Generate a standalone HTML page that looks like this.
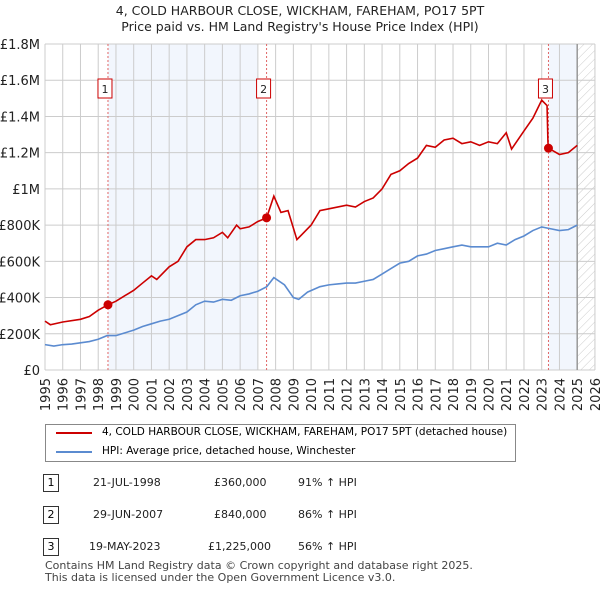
<!DOCTYPE html><html><head><meta charset="utf-8"><style>
body{margin:0;background:#fff;font-family:"DejaVu Sans","Liberation Sans",sans-serif;}
#w{position:relative;width:600px;height:590px;overflow:hidden}
.t{position:absolute;font-size:12px;color:#222}
</style></head><body><div id="w">
<div class="t" style="left:0;width:600px;text-align:center;top:3px;font-size:12.5px;line-height:16px">4, COLD HARBOUR CLOSE, WICKHAM, FAREHAM, PO17 5PT<br>Price paid vs. HM Land Registry's House Price Index (HPI)</div>
<svg id="c" width="600" height="420" style="position:absolute;left:0;top:0"></svg>
<div style="position:absolute;left:45px;top:424px;width:469px;height:36px;border:1px solid #888;font-size:10.5px">
<div style="position:absolute;left:10px;top:7px;width:36px;border-top:2px solid #cc0000"></div><div style="position:absolute;left:56px;top:1px">4, COLD HARBOUR CLOSE, WICKHAM, FAREHAM, PO17 5PT (detached house)</div>
<div style="position:absolute;left:10px;top:26px;width:36px;border-top:2px solid #5b8bd0"></div><div style="position:absolute;left:56px;top:20px">HPI: Average price, detached house, Winchester</div></div>
<div style="font-size:11px">
<div style="position:absolute;left:43px;top:474px;width:14px;height:16px;border:1px solid #333;text-align:center;line-height:16px">1</div>
<div class="t" style="font-size:11px;left:93px;top:476px">21-JUL-1998</div><div class="t" style="font-size:11px;left:214px;top:476px">£360,000</div><div class="t" style="font-size:11px;left:298px;top:476px">91% ↑ HPI</div>
<div style="position:absolute;left:43px;top:506px;width:14px;height:16px;border:1px solid #333;text-align:center;line-height:16px">2</div>
<div class="t" style="font-size:11px;left:93px;top:508px">29-JUN-2007</div><div class="t" style="font-size:11px;left:214px;top:508px">£840,000</div><div class="t" style="font-size:11px;left:298px;top:508px">86% ↑ HPI</div>
<div style="position:absolute;left:43px;top:538px;width:14px;height:16px;border:1px solid #333;text-align:center;line-height:16px">3</div>
<div class="t" style="font-size:11px;left:89px;top:540px">19-MAY-2023</div><div class="t" style="font-size:11px;left:208px;top:540px">£1,225,000</div><div class="t" style="font-size:11px;left:298px;top:540px">56% ↑ HPI</div></div>
<div class="t" style="left:45px;top:560px;font-size:11px;line-height:12px;color:#444">Contains HM Land Registry data © Crown copyright and database right 2025.<br>This data is licensed under the Open Government Licence v3.0.</div>
</div>
<script>
const hpiX=[1995,1995.5,1996,1996.5,1997,1997.5,1998,1998.5,1999,1999.5,2000,2000.5,2001,2001.5,2002,2002.5,2003,2003.5,2004,2004.5,2005,2005.5,2006,2006.5,2007,2007.5,2007.9,2008.5,2009,2009.3,2009.8,2010.5,2011,2011.5,2012,2012.5,2013,2013.5,2014,2014.5,2015,2015.5,2016,2016.5,2017,2017.5,2018,2018.5,2019,2019.5,2020,2020.5,2021,2021.5,2022,2022.5,2023,2023.5,2024,2024.5,2025];
const hpiV=[140,132,140,143,150,157,170,190,190,205,220,240,255,270,280,300,320,360,380,375,390,385,410,420,435,460,510,470,400,390,430,460,470,475,480,480,490,500,530,560,590,600,630,640,660,670,680,690,680,680,680,700,690,720,740,770,790,780,770,775,800];
const propX=[1995,1995.3,1996,1997,1997.5,1998,1998.55,1999,1999.5,2000,2000.5,2001,2001.3,2002,2002.5,2003,2003.5,2004,2004.5,2005,2005.3,2005.8,2006,2006.5,2007,2007.49,2007.9,2008.3,2008.7,2009.2,2009.5,2010,2010.5,2011,2012,2012.5,2013,2013.5,2014,2014.5,2015,2015.5,2016,2016.5,2017,2017.5,2018,2018.5,2019,2019.5,2020,2020.5,2021,2021.3,2022,2022.5,2023,2023.3,2023.35,2023.38,2024,2024.5,2025];
const propV=[270,250,265,280,295,330,360,380,410,440,480,520,500,570,600,680,720,720,730,760,730,800,780,790,820,840,960,870,880,720,750,800,880,890,910,900,930,950,1000,1080,1100,1140,1170,1240,1230,1270,1280,1250,1260,1240,1260,1250,1310,1220,1320,1390,1490,1460,1260,1225,1190,1200,1240];
const saleX=[1998.55,2007.49,2023.38];
const saleV=[360,840,1225];
const yTicks=[0,200,400,600,800,1000,1200,1400,1600,1800];
const yLabels=["£0","£200K","£400K","£600K","£800K","£1M","£1.2M","£1.4M","£1.6M","£1.8M"];
const xYears=[];for(let y=1995;y<=2026;y++)xYears.push(y);
const X=v=>45+(v-1995)*17.74, Y=v=>370-v*326/1800;
const s=document.getElementById('c');const NS='http://www.w3.org/2000/svg';
function el(t,a,p){const e=document.createElementNS(NS,t);for(const k in a)e.setAttribute(k,a[k]);(p||s).appendChild(e);return e;}
s.innerHTML='<defs><pattern id="h" width="6" height="6" patternUnits="userSpaceOnUse" patternTransform="rotate(45)"><line x1="0" y1="0" x2="0" y2="6" stroke="#ccc" stroke-width="1"/></pattern></defs>';
let r=el('rect',{x:X(1998.55),y:Y(1800),width:X(2007)-X(1998.55),height:Y(0)-Y(1800),fill:'#f2f6fd'});


r=el('rect',{x:X(2023.38),y:Y(1800),width:X(2025)-X(2023.38),height:Y(0)-Y(1800),fill:'#f2f6fd'});


r=el('rect',{x:X(2025),y:Y(1800),width:X(2026)-X(2025),height:Y(0)-Y(1800),fill:'url(#h)'});


yTicks.forEach((v,i)=>{el('line',{x1:45,x2:X(2026),y1:Y(v),y2:Y(v),stroke:'#ccc'});
const t=el('text',{x:40,y:Y(v)+5,'text-anchor':'end','font-size':13,fill:'#222'});t.textContent=yLabels[i];

});
xYears.forEach(v=>{el('line',{x1:X(v),x2:X(v),y1:Y(1800),y2:Y(0),stroke:'#ccc'});
const t=el('text',{transform:`translate(${X(v)+5},${Y(0)+8}) rotate(-90)`,'text-anchor':'end','font-size':13,fill:'#222'});t.textContent=v;

});
el('line',{x1:X(2025),x2:X(2025),y1:Y(1800),y2:Y(0),stroke:'#999','stroke-width':1.5});
saleX.forEach((v,i)=>{el('line',{x1:X(v),x2:X(v),y1:Y(1800),y2:Y(0),stroke:'#e06666','stroke-dasharray':'2,2'});
const g=el('g',{});
el('rect',{x:X(v)-10,y:79,width:14,height:19,fill:'#fff',stroke:'#cc0000'},g);
const t=el('text',{x:X(v)-3,y:93,'text-anchor':'middle','font-size':11,fill:'#222'},g);t.textContent=i+1;});
const pl=(xs,vs,c,n)=>{const p=el('polyline',{points:xs.map((x,i)=>X(x)+','+Y(vs[i])).join(' '),fill:'none',stroke:c,'stroke-width':1.6});

};
pl(hpiX,hpiV,'#5b8bd0','hpi-line');pl(propX,propV,'#cc0000','property-line');
saleX.forEach((v,i)=>{const c=el('circle',{cx:X(v),cy:Y(saleV[i]),r:4.5,fill:'#cc0000'});

});
</script></body></html>
